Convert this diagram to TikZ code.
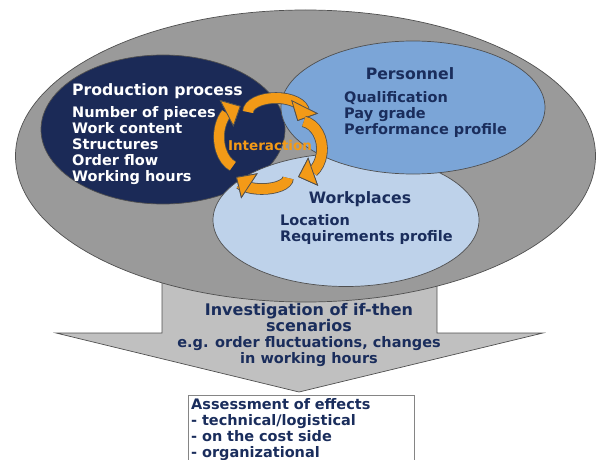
\documentclass[tikz,border=0pt]{standalone}
\usepackage{fontspec}
\setmainfont{DejaVu Sans}
\usepackage{xcolor}
\usetikzlibrary{positioning,shapes.geometric,arrows.meta,bending}

\definecolor{navyzone}{HTML}{1B2A57}
\definecolor{navytext}{HTML}{1A2D5C}
\definecolor{persblue}{HTML}{7BA5D7}
\definecolor{workblue}{HTML}{BED2EA}
\definecolor{framegray}{HTML}{9A9A9A}
\definecolor{arrowgray}{HTML}{C0C0C0}
\definecolor{edge}{HTML}{505050}
\definecolor{turnorange}{HTML}{F39A17}

\begin{document}
\begin{tikzpicture}[x=1pt, y=1pt,
  zone/.style={ellipse, draw=edge, line width=0.7pt, inner sep=0pt},
  headtext/.style={font=\fontsize{15.7}{16}\selectfont\bfseries, inner sep=0pt},
  listtext/.style={font=\fontsize{14.5}{16}\selectfont\bfseries, align=left, inner sep=0pt},
  turnback/.style={edge, line width=11.6pt,
    -{Triangle[width=30pt, length=16pt, fill=turnorange, color=edge, line width=0.8pt]}},
  turnfront/.style={turnorange, line width=10pt,
    -{Triangle[width=30pt, length=16pt, fill=turnorange, color=edge, line width=0.8pt]}}]

\useasboundingbox (0,0) rectangle (600,459);

% big arrow down to the assessment, its shaft hidden by the frame
\draw[fill=arrowgray, draw=edge, line width=0.7pt]
  (162,200) -- (162,126) -- (56,126) -- (299,67) -- (543,126) -- (437,126) -- (437,200) -- cycle;

% frame and the three overlapping zones
\node[zone, fill=framegray, minimum width=580pt, minimum height=292pt] (frame) at (305.5,303) {};
\node[zone, fill=navyzone, minimum width=244pt, minimum height=149pt] (prodzone) at (163,329.5) {};
\node[zone, fill=workblue, minimum width=266pt, minimum height=133pt] (workzone) at (346,239) {};
\node[zone, fill=persblue, minimum width=264pt, minimum height=133pt] (perszone) at (413,351.5) {};

% lists sit on the baseline of their last line
\node[headtext, white, anchor=base west] (prodhead) at (72,363) {Production process};
\node[listtext, white, anchor=base west] (prodlist) at (72,278)
  {Number of pieces\\Work content\\Structures\\Order flow\\Working hours};

\node[headtext, navytext, anchor=base] (pershead) at (410,379.5) {Personnel};
\node[listtext, navytext, anchor=base west] (perslist) at (344,325)
  {Qualification\\Pay grade\\Performance profile};

\node[headtext, navytext, anchor=base] (workhead) at (360,255.5) {Workplaces};
\node[listtext, navytext, anchor=base west] (worklist) at (280,218)
  {Location\\Requirements profile};

% four turning arrows round the interaction
\foreach \cx/\cy/\sa/\ea/\rx/\ry in {276/347/180/-40/28/14, 300/310/80/-95/22/28,
    262/281/0/-185/26/11, 240/322/-110/-272/21/31} {
  \draw[turnback] ({\cx+\rx*cos(\sa)},{\cy+\ry*sin(\sa)})
    arc[start angle=\sa, end angle=\ea, x radius=\rx, y radius=\ry];
  \draw[turnfront] ({\cx+\rx*cos(\sa)},{\cy+\ry*sin(\sa)})
    arc[start angle=\sa, end angle=\ea, x radius=\rx, y radius=\ry];
}
\node[font=\fontsize{13.5}{14}\selectfont\bfseries, text=turnorange, inner sep=0pt] (interact)
  at (270,314) {Interaction};

\node[listtext, navytext, align=center, anchor=base] (scen) at (309,96)
  {{\fontsize{16}{16}\selectfont Investigation of if-then}\\
   {\fontsize{16}{16}\selectfont scenarios}\\
   e.g. order fluctuations, changes\\in working hours};

\node[listtext, navytext, anchor=north west, inner sep=3pt, text width=220pt] (effects) at (188,64)
  {Assessment of effects\\- technical/logistical\\- on the cost side\\- organizational};
\draw[edge!70, line width=0.6pt] (effects.north west) rectangle ([yshift=-20pt]effects.south east);
\end{tikzpicture}
\end{document}
